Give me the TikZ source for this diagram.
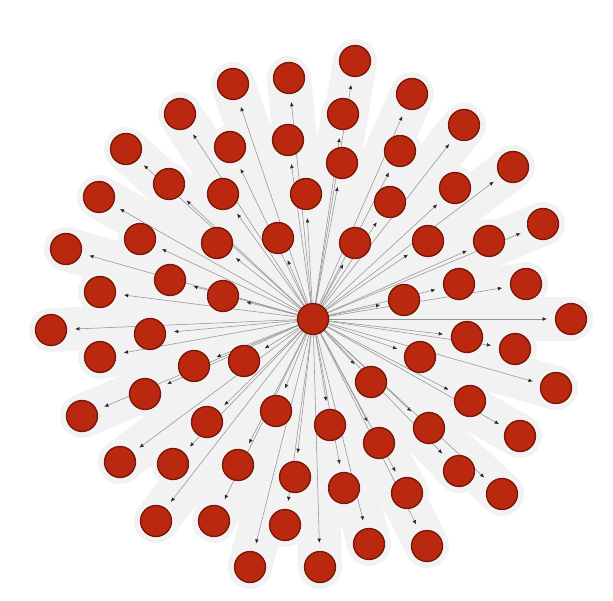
\documentclass[tikz,border=0pt]{standalone}
\usepackage{tikz}
\usetikzlibrary{arrows.meta,backgrounds}
\definecolor{nodered}{RGB}{186,40,16}
\definecolor{noderim}{RGB}{120,22,8}

\begin{document}
\begin{tikzpicture}[x=1pt,y=-1pt,>={Latex[length=1.5mm,width=1.3mm,color=black!85]},
  vert/.style={circle,draw=noderim,line width=1.3pt,fill=nodered,
               minimum size=31pt,inner sep=0pt},
  link/.style={->,draw=black!42,line width=0.55pt,shorten >=8pt},
  haze/.style={draw=black!5,line width=44pt,line cap=round}]
 \useasboundingbox (0,0) rectangle (613,601);
 \node[vert] (c) at (313,319) {};
 \foreach \x/\y [count=\i] in {
   355/61,289/78,233/84,412/94,180/114,343/114,464/125,126/149,230/147,
   288/140,400/151,342/163,513/167,169/184,99/197,223/194,306/194,455/188,
   390/202,140/239,217/243,278/238,355/243,428/241,489/241,543/224,66/249,
   170/280,459/284,526/284,100/292,223/296,404/300,51/330,150/334,571/319,
   100/357,194/366,244/361,467/337,515/349,420/357,82/416,145/394,556/388,
   371/382,207/422,276/411,330/425,470/401,429/428,520/436,120/462,173/464,
   238/465,379/443,295/477,344/488,407/493,459/471,502/494,156/521,214/521,
   285/525,369/544,427/546,250/567,320/567}
   \node[vert] (v\i) at (\x,\y) {};
 \begin{scope}[on background layer]
  \foreach \i in {1,...,68} \draw[haze] (c.center) -- (v\i.center);
  \foreach \i in {1,...,68} \draw[link] (c) -- (v\i);
 \end{scope}
\end{tikzpicture}
\end{document}
